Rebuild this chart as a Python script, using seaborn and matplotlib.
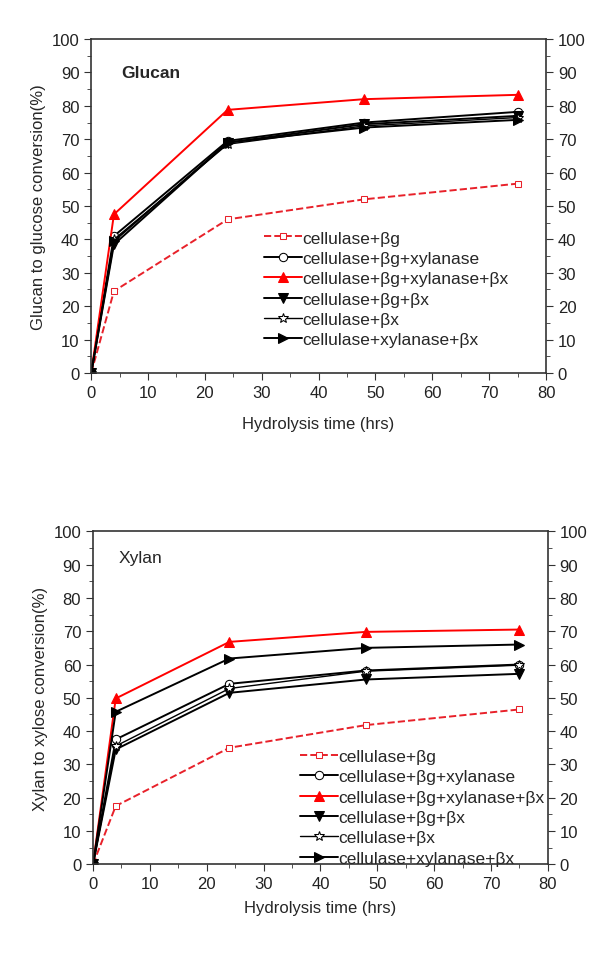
import pandas as pd
import matplotlib.pyplot as plt
import seaborn as sns
from matplotlib.ticker import MultipleLocator

sns.set_style("ticks")
plt.rcParams['font.family'] = ['Liberation Sans', 'DejaVu Sans']

# ---------------- DATA ----------------
hours = [0, 4, 24, 48, 75]

series_names = [
    "cellulase+βg",
    "cellulase+βg+xylanase",
    "cellulase+βg+xylanase+βx",
    "cellulase+βg+βx",
    "cellulase+βx",
    "cellulase+xylanase+βx",
]

glucan_bg = [0, 24.5, 46.0, 52.0, 56.7]
glucan_bg_xyl = [0, 41.0, 69.5, 75.0, 78.2]
glucan_bg_xyl_bx = [0, 47.5, 78.8, 82.0, 83.3]
glucan_bg_bx = [0, 38.5, 69.0, 74.5, 77.0]
glucan_bx = [0, 40.0, 68.5, 74.0, 76.5]
glucan_xyl_bx = [0, 39.5, 69.0, 73.5, 75.8]

xylan_bg = [0, 17.5, 35.0, 41.8, 46.5]
xylan_bg_xyl = [0, 37.5, 54.2, 58.2, 60.0]
xylan_bg_xyl_bx = [0, 49.8, 66.8, 69.8, 70.5]
xylan_bg_bx = [0, 34.5, 51.5, 55.5, 57.2]
xylan_bx = [0, 35.5, 52.8, 58.0, 59.8]
xylan_xyl_bx = [0, 45.8, 61.8, 65.0, 66.0]

glucan_values = [glucan_bg, glucan_bg_xyl, glucan_bg_xyl_bx, glucan_bg_bx, glucan_bx, glucan_xyl_bx]
xylan_values = [xylan_bg, xylan_bg_xyl, xylan_bg_xyl_bx, xylan_bg_bx, xylan_bx, xylan_xyl_bx]

# ---------------- STYLES ----------------
styles = [
    dict(color="#e8212a", linestyle="--", marker="s", mfc="white", mec="#e8212a", ms=5, lw=1.4),
    dict(color="black", linestyle="-", marker="o", mfc="white", mec="black", ms=6, lw=1.4),
    dict(color="#ff0000", linestyle="-", marker="^", mfc="#ff0000", mec="#ff0000", ms=6.5, lw=1.4),
    dict(color="black", linestyle="-", marker="v", mfc="black", mec="black", ms=6.5, lw=1.4),
    dict(color="black", linestyle="-", marker="*", mfc="white", mec="black", ms=7, lw=1.0),
    dict(color="black", linestyle="-", marker=">", mfc="black", mec="black", ms=6.5, lw=1.4),
]


def draw_panel(ax, values, ylabel, title, title_bold, title_pos, legend_anchor, xpad):
    for name, vals, st in zip(series_names, values, styles):
        df = pd.DataFrame({"time": hours, "conv": vals})
        sns.lineplot(data=df, x="time", y="conv", ax=ax, label=name,
                     color=st["color"], linestyle=st["linestyle"], marker=st["marker"],
                     markerfacecolor=st["mfc"], markeredgecolor=st["mec"],
                     markersize=st["ms"], linewidth=st["lw"])
    ax.set_xlim(0, 80)
    ax.set_ylim(0, 100)
    ax.xaxis.set_major_locator(MultipleLocator(10))
    ax.xaxis.set_minor_locator(MultipleLocator(5))
    ax.yaxis.set_major_locator(MultipleLocator(10))
    ax.yaxis.set_minor_locator(MultipleLocator(5))
    ax.tick_params(which="both", direction="out", labelsize=12, right=True, labelright=True,
                   top=False, color="#333333", labelcolor="#222222")
    ax.tick_params(which="major", length=5)
    ax.tick_params(which="minor", length=3)
    for sp in ax.spines.values():
        sp.set_color("#333333")
        sp.set_linewidth(1.2)
    ax.set_xlabel("Hydrolysis time (hrs)", fontsize=12, labelpad=xpad)
    ax.set_ylabel(ylabel, fontsize=12, labelpad=4)
    ax.text(title_pos[0], title_pos[1], title, fontsize=12.5,
            fontweight="bold" if title_bold else "normal", va="center")
    ax.legend(loc="upper left", bbox_to_anchor=legend_anchor, frameon=False,
              fontsize=12.5, handlelength=2.2, handletextpad=0.0, labelspacing=0.3,
              borderaxespad=0, borderpad=0)


fig = plt.figure(figsize=(6, 9.54), dpi=100)
ax1 = fig.add_axes([0.152, 0.608, 0.758, 0.35])
ax2 = fig.add_axes([0.155, 0.093, 0.758, 0.349])

draw_panel(ax1, glucan_values, "Glucan to glucose conversion(%)", "Glucan", True,
           (5.3, 90), (0.38, 0.427), 12)
draw_panel(ax2, xylan_values, "Xylan to xylose conversion(%)", "Xylan", False,
           (4.5, 92), (0.455, 0.347), 6.5)

fig.savefig("out.png", dpi=100)
